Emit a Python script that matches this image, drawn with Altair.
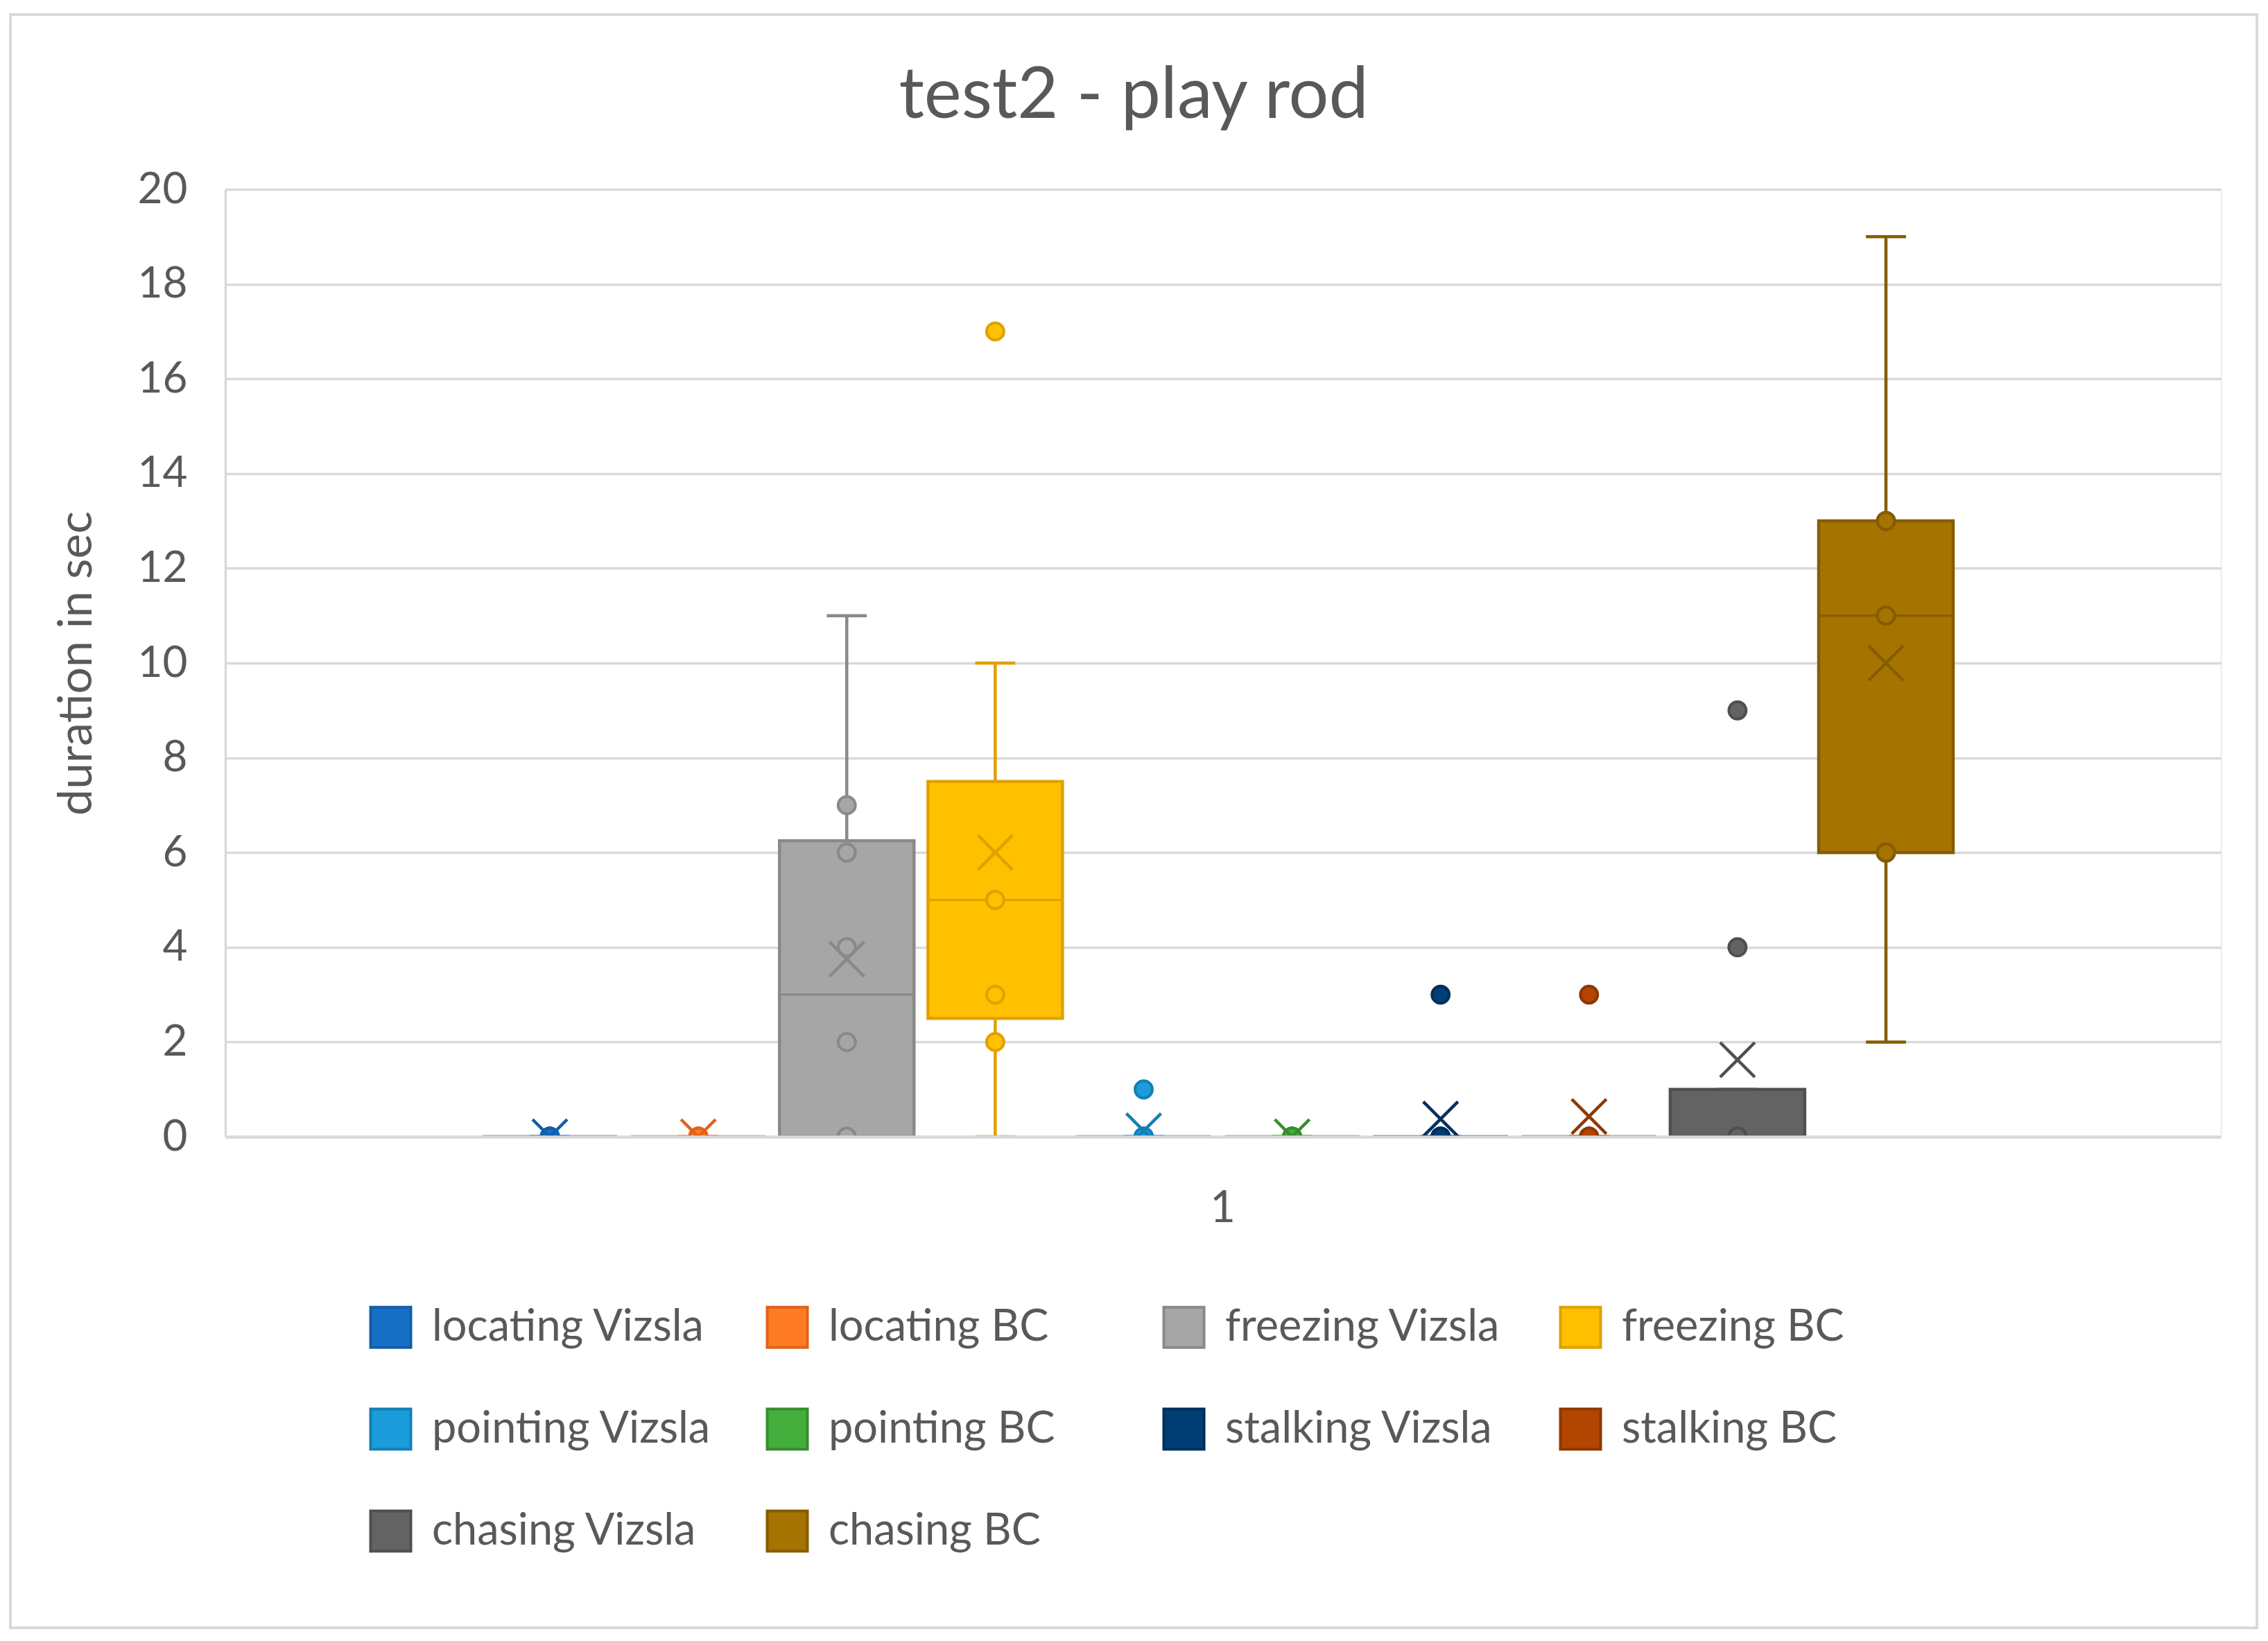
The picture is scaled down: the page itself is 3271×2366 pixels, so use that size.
import altair as alt
import numpy as np
import pandas as pd

series = ["locating Vizsla", "locating BC", "freezing Vizsla", "freezing BC",
          "pointing Vizsla", "pointing BC", "stalking Vizsla", "stalking BC",
          "chasing Vizsla", "chasing BC"]

locating_vizsla = [0, 0, 0, 0, 0, 0, 0, 0]
locating_bc = [0, 0, 0, 0, 0, 0, 0]
freezing_vizsla = [0, 0, 0, 2, 4, 6, 7, 11]
freezing_bc = [0, 2, 3, 5, 5, 10, 17]
pointing_vizsla = [0, 0, 0, 0, 0, 0, 0, 1]
pointing_bc = [0, 0, 0, 0, 0, 0, 0]
stalking_vizsla = [0, 0, 0, 0, 0, 0, 0, 3]
stalking_bc = [0, 0, 0, 0, 0, 0, 3]
chasing_vizsla = [0, 0, 0, 0, 0, 0, 4, 9]
chasing_bc = [2, 6, 6, 11, 13, 13, 19]

values = [locating_vizsla, locating_bc, freezing_vizsla, freezing_bc,
          pointing_vizsla, pointing_bc, stalking_vizsla, stalking_bc,
          chasing_vizsla, chasing_bc]

fills = ["#1670C6", "#FF7C24", "#A6A6A6", "#FFC000", "#1A9DDA",
         "#44AE3C", "#003F75", "#B24500", "#636363", "#A57300"]
strokes = ["#125EA8", "#E0621A", "#898989", "#E0A100", "#157FB5",
           "#388C30", "#002F5C", "#8E3700", "#4F4F4F", "#855C00"]

title_text = "test2 - play rod"
y_title = "duration in sec"
x_label = "1"

# ---- build box statistics (Excel style, inclusive quartiles) ----
box_rows, pt_rows = [], []
for i, (name, vals) in enumerate(zip(series, values)):
    a = np.array(sorted(vals), dtype=float)
    q1, med, q3 = np.percentile(a, [25, 50, 75])
    iqr = q3 - q1
    lo_f, hi_f = q1 - 1.5 * iqr, q3 + 1.5 * iqr
    inside = a[(a >= lo_f) & (a <= hi_f)]
    outl = a[(a < lo_f) | (a > hi_f)]
    w_lo, w_hi = inside.min(), inside.max()
    box_rows.append(dict(series=name, pos=i, q1=q1, q3=q3, med=med, mean=a.mean(),
                         lo=min(w_lo, q1), hi=max(w_hi, q3),
                         xl=i - 0.453, xr=i + 0.453, cl=i - 0.135, cr=i + 0.135))
    inner = list(inside)
    inner.remove(w_lo)
    if len(inner) > 0 and w_hi in inner:
        inner.remove(w_hi)
    for v in inner:
        pt_rows.append(dict(series=name, pos=i, value=v))
    for v in outl:
        pt_rows.append(dict(series=name, pos=i, value=v))

boxes = pd.DataFrame(box_rows)
pts = pd.DataFrame(pt_rows)

FONT = "Lato"
TXT = "#595959"
GRID = "#D9D9D9"

fill_scale = alt.Scale(domain=series, range=fills)
stroke_scale = alt.Scale(domain=series, range=strokes)
xs = alt.Scale(domain=[-2.186, 11.256], nice=False, zero=False)
ys = alt.Scale(domain=[0, 20], nice=False)

xa = alt.Axis(values=[4.53], labelExpr="'" + x_label + "'", title=None, ticks=False, grid=False,
              domainColor=GRID, domainWidth=4.5, labelFontSize=63, labelFont=FONT,
              labelColor=TXT, labelPadding=72, zindex=1)
ya = alt.Axis(values=list(range(0, 21, 2)), title=y_title, ticks=False,
              gridColor=GRID, gridWidth=3.5, domainColor=GRID, domainWidth=3.5,
              labelFontSize=62, labelFont=FONT, labelColor=TXT, labelPadding=55,
              titleFont=FONT, titleFontSize=68, titleColor=TXT, titleFontWeight="normal",
              titleX=-194, titleY=683, titleAngle=-90, titleAlign="center",
              titleBaseline="alphabetic", zindex=0)

leg = alt.Legend(title=None, orient="none", legendX=207, legendY=1609,
                 columns=4, gridAlign="all", symbolType="square",
                 symbolSize=3364, symbolStrokeWidth=4, labelFontSize=63,
                 labelFont=FONT, labelColor=TXT, labelOffset=28, labelLimit=1000,
                 columnPadding=71, rowPadding=72, padding=0, direction="horizontal")


def X(f):
    return alt.X(f, scale=xs, axis=xa)


def Y(f):
    return alt.Y(f, scale=ys, axis=ya)


base = alt.Chart(boxes)

box = base.mark_rect(strokeWidth=4.5, clip=True).encode(
    x=X("xl:Q"), x2="xr:Q",
    y=Y("q1:Q"), y2="q3:Q",
    fill=alt.Fill("series:N", scale=fill_scale, legend=leg),
    stroke=alt.Stroke("series:N", scale=stroke_scale, legend=leg),
)

median = base.mark_rule(strokeWidth=3, clip=True).encode(
    x=X("xl:Q"), x2="xr:Q", y=Y("med:Q"),
    stroke=alt.Stroke("series:N", scale=stroke_scale, legend=leg),
)

wh_lo = base.mark_rule(strokeWidth=4.5, clip=True).encode(
    x=X("pos:Q"), y=Y("lo:Q"), y2="q1:Q",
    stroke=alt.Stroke("series:N", scale=stroke_scale, legend=leg),
)
wh_hi = base.mark_rule(strokeWidth=4.5, clip=True).encode(
    x=X("pos:Q"), y=Y("q3:Q"), y2="hi:Q",
    stroke=alt.Stroke("series:N", scale=stroke_scale, legend=leg),
)
cap_lo = base.mark_rule(strokeWidth=4.5, clip=True).encode(
    x=X("cl:Q"), x2="cr:Q", y=Y("lo:Q"),
    stroke=alt.Stroke("series:N", scale=stroke_scale, legend=leg),
)
cap_hi = base.mark_rule(strokeWidth=4.5, clip=True).encode(
    x=X("cl:Q"), x2="cr:Q", y=Y("hi:Q"),
    stroke=alt.Stroke("series:N", scale=stroke_scale, legend=leg),
)

points = alt.Chart(pts).mark_point(shape="circle", filled=True, size=620, strokeWidth=4,
                                   opacity=1, clip=True).encode(
    x=X("pos:Q"), y=Y("value:Q"),
    fill=alt.Fill("series:N", scale=fill_scale, legend=leg),
    stroke=alt.Stroke("series:N", scale=stroke_scale, legend=leg),
)

means = base.mark_point(shape="M-1,-1L1,1M-1,1L1,-1", filled=False, size=2500,
                        strokeWidth=4.5, opacity=1, clip=True).encode(
    x=X("pos:Q"), y=Y("mean:Q"),
    stroke=alt.Stroke("series:N", scale=stroke_scale, legend=leg),
)

title = alt.Chart(pd.DataFrame({"t": [title_text]})).mark_text(
    font=FONT, fontSize=102, color=TXT, align="center", baseline="alphabetic", clip=False
).encode(x=alt.value(1310), y=alt.value(-103), text="t:N")

frame = base.mark_rect(fill="transparent", stroke=GRID, strokeWidth=3.5, clip=False).encode(
    x=alt.value(-310), x2=alt.value(2930), y=alt.value(-252), y2=alt.value(2074)
)

chart = alt.layer(box, median, wh_lo, wh_hi, cap_lo, cap_hi, points, means, title, frame).properties(
    width=2878, height=1366,
    autosize=alt.AutoSizeParams(type="none"),
    padding={"left": 325, "top": 273, "right": 68, "bottom": 727},
).configure_view(stroke="transparent").configure(background="white")

chart.save("out.html", embed_options={"renderer": "svg", "actions": False})
